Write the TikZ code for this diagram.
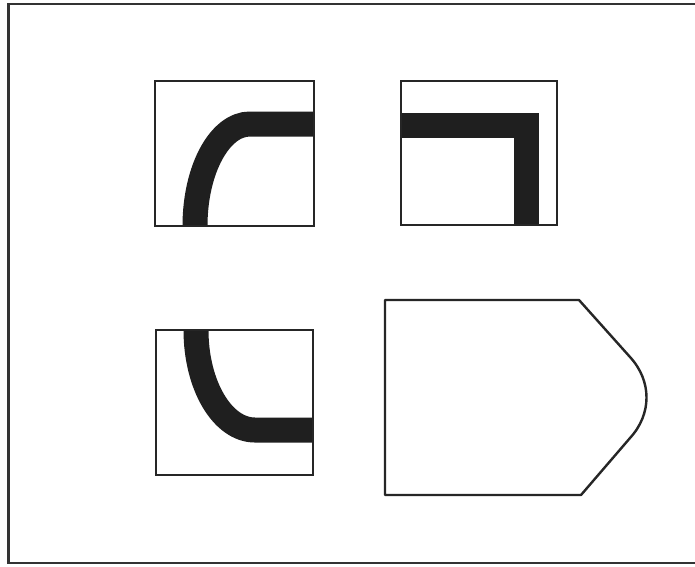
\documentclass[tikz,border=0pt]{standalone}
\begin{document}
\begin{tikzpicture}[x=1pt,y=-1pt,
  frame/.style={draw=black!80,line width=2.8pt},
  boxline/.style={draw=black!85,line width=2.4pt,fill=white},
  band/.style={draw=black!88,line width=25pt,line cap=butt,line join=miter}]
\useasboundingbox (0,0) rectangle (695,566);
\clip (0,0) rectangle (695,566);
\fill[white] (0,0) rectangle (695,566);
% outer frame (right side runs beyond the picture)
\draw[frame] (8.5,4) rectangle (710,563);
% panel 1: curved band
\coordinate (p1a) at (155,81);
\coordinate (p1b) at (314,226);
\fill[white] (p1a) rectangle (p1b);
\begin{scope}
  \clip (p1a) rectangle (p1b);
  \draw[band] (195,240) -- (195,226) arc[start angle=180,end angle=270,x radius=55,y radius=102] -- (330,124);
\end{scope}
\draw[boxline,fill=none] (p1a) rectangle (p1b);
% panel 2: square corner band
\coordinate (p2a) at (401,81);
\coordinate (p2b) at (557,225);
\fill[white] (p2a) rectangle (p2b);
\begin{scope}
  \clip (p2a) rectangle (p2b);
  \draw[band] (390,125) -- (526,125) -- (526,240);
\end{scope}
\draw[boxline,fill=none] (p2a) rectangle (p2b);
% panel 3: curved band turning right
\coordinate (p3a) at (156,330);
\coordinate (p3b) at (313,475);
\fill[white] (p3a) rectangle (p3b);
\begin{scope}
  \clip (p3a) rectangle (p3b);
  \draw[band] (196,318) -- (196,330) arc[start angle=180,end angle=90,x radius=59,y radius=100] -- (330,430);
\end{scope}
\draw[boxline,fill=none] (p3a) rectangle (p3b);
% panel 4: pointed shape
\draw[boxline,line join=round] (385,300) -- (579,300) -- (630,357)
  .. controls (652,381) and (652,414) .. (630,438) -- (581,495) -- (385,495) -- cycle;
\end{tikzpicture}
\end{document}
